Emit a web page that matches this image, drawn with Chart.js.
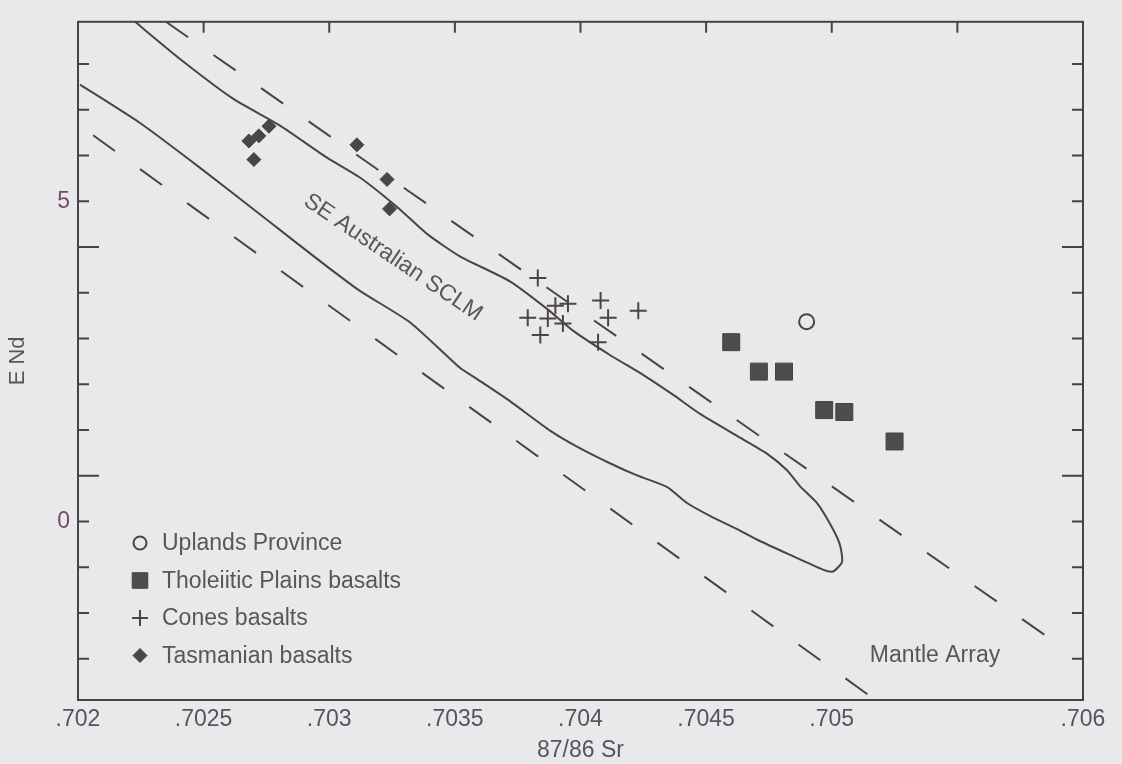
<!DOCTYPE html>
<html>
<head>
<meta charset="utf-8">
<script src="https://cdn.jsdelivr.net/npm/chart.js@4.4.1/dist/chart.umd.min.js"></script>
<style>
  html, body { margin: 0; padding: 0; background: #e9e9ec; }
  #wrap { width: 1122px; height: 764px; }
</style>
</head>
<body>
<div id="wrap"><canvas id="isoChart" width="1122" height="764"></canvas></div>
<script>
// eixos
const xTicks = [0.702, 0.7025, 0.703, 0.7035, 0.704, 0.7045, 0.705, 0.7055, 0.706];
const xTickLabels = ['.702', '.7025', '.703', '.7035', '.704', '.7045', '.705', '', '.706'];
const yTicks = [-2.143, -1.429, -0.714, 0, 0.714, 1.429, 2.143, 2.857, 3.571, 4.286, 5, 5.714, 6.429, 7.143];
const yTickLabels = ['', '', '', '0', '', '', '', '', '', '', '5', '', '', ''];
const yLongTicks = [0.714, 4.286];

// Uplands Province
const uplandsSr = [0.70490];
const uplandsNd = [3.12];

// Tholeiitic Plains basalts
const tholSr = [0.70460, 0.70471, 0.70481, 0.70497, 0.70505, 0.70525];
const tholNd = [2.80, 2.34, 2.34, 1.74, 1.71, 1.25];

// Cones basalts
const conesSr = [0.70383, 0.70390, 0.70395, 0.70379, 0.70387, 0.70393, 0.70384, 0.70408, 0.70411, 0.70423, 0.70407];
const conesNd = [3.80, 3.37, 3.40, 3.18, 3.17, 3.09, 2.91, 3.45, 3.18, 3.29, 2.80];

// Tasmanian basalts
const tasSr = [0.70268, 0.70272, 0.70276, 0.70270, 0.70311, 0.70323, 0.70324];
const tasNd = [5.94, 6.02, 6.17, 5.65, 5.88, 5.34, 4.88];

// envelope SE Australian SCLM (contorno fechado)
const sclmSr = [0.702227, 0.702406, 0.702617, 0.702804, 0.702991, 0.703122, 0.70327, 0.703389,
  0.70352, 0.703719, 0.703867, 0.70397, 0.704117, 0.704249, 0.704368, 0.704476, 0.704635,
  0.704742, 0.704822, 0.704874, 0.704941, 0.705005, 0.705033, 0.705041, 0.705005, 0.704965,
  0.704834, 0.704702, 0.704635, 0.704515, 0.704424, 0.704344, 0.704225, 0.704117, 0.703986,
  0.703879, 0.703719, 0.70359, 0.70352, 0.703321, 0.703122, 0.702975, 0.702752, 0.702486,
  0.702247, 0.702008];
const sclmNd = [7.80, 7.22, 6.60, 6.18, 5.68, 5.37, 4.91, 4.49,
  4.14, 3.75, 3.32, 2.98, 2.60, 2.29, 1.98, 1.68, 1.31,
  1.06, 0.80, 0.55, 0.29, -0.12, -0.37, -0.63, -0.78, -0.75,
  -0.52, -0.28, -0.14, 0.09, 0.29, 0.54, 0.72, 0.91, 1.17,
  1.42, 1.88, 2.22, 2.40, 3.11, 3.60, 4.03, 4.71, 5.52,
  6.22, 6.82];

// Mantle Array (tracejado)
const arrayTopSr = [0.70235, 0.705888];
const arrayTopNd = [7.80, -1.88];
const arrayLowSr = [0.70206, 0.70520];
const arrayLowNd = [6.03, -2.86];

const notes = [
  { text: 'SE Australian SCLM', x: 0.703254, y: 4.12, angle: 34 },
  { text: 'Mantle Array', x: 0.705411, y: -2.09, angle: 0 }
];

const INK = '#4a4446';
const FONT = { family: "'Liberation Sans', Arial, sans-serif", size: 23 };

function pts(xs, ys) {
    return xs.map((x, i) => ({ x: x, y: ys[i] }));
}

const datasets = [
    { data: pts(sclmSr, sclmNd), showLine: true, borderColor: INK, borderWidth: 2, pointRadius: 0, tension: 0.2 },
    { data: pts(arrayTopSr, arrayTopNd), showLine: true, borderColor: INK, borderWidth: 2, borderDash: [27, 31], pointRadius: 0 },
    { data: pts(arrayLowSr, arrayLowNd), showLine: true, borderColor: INK, borderWidth: 2, borderDash: [27, 31], pointRadius: 0 },
    { keyLabel: 'Uplands Province', data: pts(uplandsSr, uplandsNd), pointStyle: 'circle', pointRadius: 7.5,
      pointBorderWidth: 2, pointBorderColor: INK, pointBackgroundColor: 'rgba(0,0,0,0)', keyRadius: 6.5 },
    { keyLabel: 'Tholeiitic Plains basalts', data: pts(tholSr, tholNd), pointStyle: 'rect', pointRadius: 12,
      pointBorderWidth: 1, pointBorderColor: '#444', pointBackgroundColor: '#4e4c4e', keyRadius: 11 },
    { keyLabel: 'Cones basalts', data: pts(conesSr, conesNd), pointStyle: 'cross', pointRadius: 8.5,
      pointBorderWidth: 2, pointBorderColor: INK, pointBackgroundColor: INK, keyRadius: 8 },
    { keyLabel: 'Tasmanian basalts', data: pts(tasSr, tasNd), pointStyle: 'rectRot', pointRadius: 7,
      pointBorderWidth: 1, pointBorderColor: '#444', pointBackgroundColor: '#4a4648', keyRadius: 7 }
];

// moldura + ticks para dentro
const framePlugin = {
    id: 'frame',
    afterDraw(chart) {
        const { ctx, chartArea: a, scales } = chart;
        ctx.save();
        ctx.strokeStyle = '#4b4045';
        ctx.lineWidth = 2;
        ctx.strokeRect(a.left, a.top, a.right - a.left, a.bottom - a.top);
        ctx.beginPath();
        scales.y.ticks.forEach(t => {
            const py = scales.y.getPixelForValue(t.value);
            const len = yLongTicks.some(v => Math.abs(v - t.value) < 1e-6) ? 21 : 11;
            ctx.moveTo(a.left, py); ctx.lineTo(a.left + len, py);
            ctx.moveTo(a.right, py); ctx.lineTo(a.right - len, py);
        });
        scales.x.ticks.forEach((t, i) => {
            if (i === 0 || i === scales.x.ticks.length - 1) return;
            const px = scales.x.getPixelForValue(t.value);
            ctx.moveTo(px, a.top); ctx.lineTo(px, a.top + 11);
        });
        ctx.stroke();
        ctx.restore();
    }
};

// legenda dentro da área do gráfico
const keyPlugin = {
    id: 'keyBox',
    afterDraw(chart) {
        const { ctx, chartArea: a } = chart;
        const series = chart.data.datasets.filter(d => d.keyLabel);
        ctx.save();
        ctx.font = `${FONT.size}px ${FONT.family}`;
        ctx.textBaseline = 'middle';
        series.forEach((d, i) => {
            const x = a.left + 62;
            const y = a.bottom - 157 + i * 37.5;
            ctx.fillStyle = d.pointBackgroundColor;
            ctx.strokeStyle = d.pointBorderColor;
            ctx.lineWidth = d.pointBorderWidth;
            Chart.helpers.drawPoint(ctx, { pointStyle: d.pointStyle, radius: d.keyRadius, borderWidth: d.pointBorderWidth, rotation: 0 }, x, y);
            ctx.fillStyle = '#5a5658';
            ctx.fillText(d.keyLabel, x + 22, y + 1);
        });
        ctx.restore();
    }
};

// textos soltos (SCLM e Mantle Array)
const notesPlugin = {
    id: 'notes',
    afterDatasetsDraw(chart) {
        const { ctx, scales } = chart;
        ctx.save();
        ctx.font = `${FONT.size}px ${FONT.family}`;
        ctx.fillStyle = '#5a5658';
        ctx.textAlign = 'center';
        ctx.textBaseline = 'middle';
        notes.forEach(n => {
            ctx.save();
            ctx.translate(scales.x.getPixelForValue(n.x), scales.y.getPixelForValue(n.y));
            ctx.rotate(n.angle * Math.PI / 180);
            ctx.fillText(n.text, 0, 0);
            ctx.restore();
        });
        ctx.restore();
    }
};

new Chart(document.getElementById('isoChart'), {
    type: 'scatter',
    data: { datasets: datasets },
    options: {
        responsive: false,
        animation: false,
        layout: { padding: { top: 12, right: 39, left: 0, bottom: 0 } },
        plugins: { legend: { display: false }, tooltip: { enabled: false } },
        scales: {
            x: {
                type: 'linear', min: 0.702, max: 0.706,
                afterFit: s => { s.height = 64; },
                afterBuildTicks: s => { s.ticks = xTicks.map(v => ({ value: v })); },
                ticks: { autoSkip: false, maxRotation: 0, padding: 6, color: '#57535a', font: FONT,
                         callback: (v, i) => xTickLabels[i] },
                grid: { drawOnChartArea: false, drawTicks: false },
                border: { display: false },
                title: { display: true, text: '87/86 Sr', color: '#57535a', font: FONT, padding: { top: 0, bottom: 0 } }
            },
            y: {
                type: 'linear', min: -2.785, max: 7.8,
                afterFit: s => { s.width = 78; },
                afterBuildTicks: s => { s.ticks = yTicks.map(v => ({ value: v })); },
                ticks: { autoSkip: false, padding: 8, color: '#744e60', font: FONT,
                         callback: (v, i) => yTickLabels[i] },
                grid: { drawOnChartArea: false, drawTicks: false },
                border: { display: false },
                title: { display: true, text: 'E Nd', color: '#5a5658', font: { family: FONT.family, size: 22 }, padding: { top: 5, bottom: 0 } }
            }
        }
    },
    plugins: [framePlugin, keyPlugin, notesPlugin]
});
</script>
</body>
</html>
